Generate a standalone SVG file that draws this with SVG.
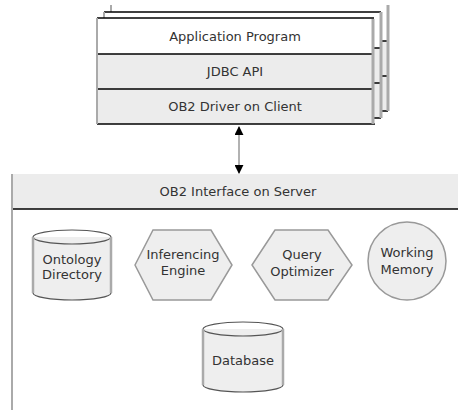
<svg xmlns="http://www.w3.org/2000/svg" width="458" height="410" viewBox="0 0 458 410">
<style>
text{font-family:"DejaVu Sans","Liberation Sans",sans-serif;font-size:13px;fill:#333;text-anchor:middle}
.blk{stroke:#000;stroke-width:1.3;fill:none}
.gedge{stroke:#aaa;stroke-width:2;fill:none}
.redge{stroke:#aaa;stroke-width:3;fill:none}
.row{fill:#ececec}
.shape{fill:#eeeeee;stroke:#999;stroke-width:1.5}
.cylside{stroke:#aaa;stroke-width:2.5;fill:none}
.cylrim{stroke:#555;stroke-width:1.2;fill:none}
</style>
<defs>
<marker id="ah" viewBox="0 0 10 10" refX="9" refY="5" markerWidth="6" markerHeight="6" orient="auto-start-reverse">
<path d="M0,0 L10,5 L0,10 z" fill="#000"/>
</marker>
</defs>
<rect width="458" height="410" fill="#fff"/>

<g id="client-stack">
  <g id="page3">
    <rect x="111" y="5" width="277" height="106" fill="#fff"/>
    <rect class="row" x="111" y="41" width="277" height="70"/>
    <line class="blk" x1="111" y1="41" x2="388" y2="41"/>
    <line class="blk" x1="111" y1="76" x2="388" y2="76"/>
    <line class="blk" x1="111" y1="111" x2="388" y2="111"/>
    <line class="gedge" x1="111" y1="5" x2="111" y2="111"/>
    <line class="redge" x1="388" y1="5" x2="388" y2="111"/>
  </g>
  <g id="page2">
    <rect x="104" y="12" width="277" height="106" fill="#fff"/>
    <rect class="row" x="104" y="48" width="277" height="70"/>
    <line class="blk" x1="104" y1="12" x2="381" y2="12"/>
    <line class="blk" x1="104" y1="48" x2="381" y2="48"/>
    <line class="blk" x1="104" y1="83" x2="381" y2="83"/>
    <line class="blk" x1="104" y1="118" x2="381" y2="118"/>
    <line class="gedge" x1="104" y1="12" x2="104" y2="118"/>
    <line class="redge" x1="381" y1="12" x2="381" y2="118"/>
  </g>
  <g id="client-front">
    <rect x="97" y="18" width="277" height="106" fill="#fff"/>
    <rect class="row" x="97" y="54" width="277" height="70"/>
    <line class="blk" x1="97" y1="18" x2="374" y2="18"/>
    <line class="blk" x1="97" y1="54" x2="374" y2="54"/>
    <line class="blk" x1="97" y1="89" x2="374" y2="89"/>
    <line class="blk" x1="97" y1="124" x2="375" y2="124"/>
    <line class="gedge" x1="97" y1="18" x2="97" y2="124"/>
    <line class="redge" x1="373" y1="19" x2="373" y2="124"/>
    <text x="235" y="40.5">Application Program</text>
    <text x="235" y="76">JDBC API</text>
    <text x="235" y="111">OB2 Driver on Client</text>
  </g>
</g>

<g id="connectors">
  <line x1="239" y1="127" x2="239" y2="173" stroke="#999" stroke-width="1.5" marker-start="url(#ah)" marker-end="url(#ah)"/>
</g>

<g id="server">
  <rect class="row" x="12" y="174" width="446" height="35"/>
  <line class="blk" x1="12" y1="209" x2="458" y2="209"/>
  <line class="gedge" x1="12" y1="174" x2="12" y2="410"/>
  <text x="238" y="196">OB2  Interface on Server</text>
</g>

<g id="ontology-directory">
  <path d="M33,237 V293 A39,7 0 0 0 111,293 V237 Z" fill="#eee"/>
  <ellipse cx="72" cy="237" rx="39" ry="7" fill="#eee" class="cylrim"/>
  <path class="cylrim" d="M33,293 A39,7 0 0 0 111,293"/>
  <line class="cylside" x1="33" y1="237" x2="33" y2="293"/>
  <line class="cylside" x1="111" y1="237" x2="111" y2="293"/>
  <text x="72" y="264">Ontology</text>
  <text x="72" y="279">Directory</text>
</g>

<g id="inferencing-engine">
  <polygon class="shape" points="135,265 153,230 211,230 232,265 211,300 153,300"/>
  <text x="183" y="259">Inferencing</text>
  <text x="183" y="275">Engine</text>
</g>

<g id="query-optimizer">
  <polygon class="shape" points="252,265 275,230 328,230 352,265 328,300 275,300"/>
  <text x="302" y="259">Query</text>
  <text x="302" y="276">Optimizer</text>
</g>

<g id="working-memory">
  <circle class="shape" cx="407" cy="261" r="39"/>
  <text x="407" y="257">Working</text>
  <text x="407" y="274">Memory</text>
</g>

<g id="database">
  <path d="M203,329 V385 A40,7 0 0 0 283,385 V329 Z" fill="#eee"/>
  <ellipse cx="243" cy="329" rx="40" ry="7" fill="#eee" class="cylrim"/>
  <path class="cylrim" d="M203,385 A40,7 0 0 0 283,385"/>
  <line class="cylside" x1="203" y1="329" x2="203" y2="385"/>
  <line class="cylside" x1="283" y1="329" x2="283" y2="385"/>
  <text x="243" y="365">Database</text>
</g>
</svg>
